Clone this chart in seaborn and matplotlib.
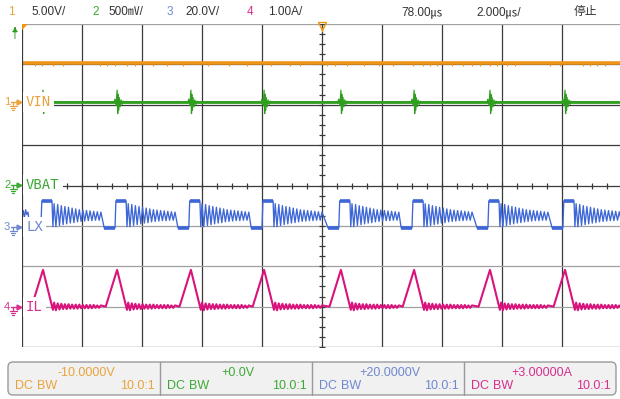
import matplotlib.pyplot as plt
import numpy as np
import seaborn as sns
from matplotlib.patches import FancyBboxPatch, Polygon

# screen units: time in us from the left edge (2.000us/div, 10 div),
# levels in divisions from the screen centre (8 div)
il_peak_us = [0.70, 3.17, 5.63, 8.07, 10.63, 13.07, 15.60, 18.10]

# ringing after each switching cycle, offsets from the current peak
ring_us = [0.37, 0.43, 0.49, 0.55, 0.61, 0.67, 0.73, 0.79, 0.85, 0.91, 0.97, 1.03, 1.09, 1.15,
           1.21, 1.27, 1.33, 1.39, 1.45, 1.51, 1.57, 1.63, 1.69, 1.75, 1.81, 1.87, 1.93]
lx_ring_div = [-0.45, -1.02, -0.47, -0.99, -0.50, -0.97, -0.52, -0.95, -0.54, -0.93, -0.56, -0.92,
               -0.58, -0.90, -0.60, -0.89, -0.61, -0.88, -0.62, -0.87, -0.63, -0.87, -0.64, -0.86,
               -0.65, -0.86, -0.66]
il_ring_div = [-2.90, -3.09, -2.92, -3.07, -2.93, -3.06, -2.94, -3.06, -2.94, -3.05, -2.95, -3.05,
               -2.95, -3.05, -2.95, -3.04, -2.96, -3.04, -2.96, -3.04, -2.96, -3.04, -2.96, -3.03,
               -2.97, -3.03, -2.97]

# LX switching edges around each peak (low plateau, high plateau)
lx_edge_us = [-0.43, -0.07, -0.04, 0.30, 0.33]
lx_edge_div = [-1.05, -1.05, -0.38, -0.38, -1.02]
lx_lead_us = [0.00, 0.04, 0.08, 0.12, 0.16, 0.20, 0.25]
lx_lead_div = [-0.78, -0.62, -0.80, -0.60, -0.72, -0.66, -0.98]

# inductor current triangle
il_edge_us = [-0.38, 0.00, 0.33]
il_edge_div = [-3.00, -2.09, -3.08]

# VIN trace with spike bursts at each switching event
vin_level = 2.07
vin_burst_us = [-0.10, -0.07, -0.03, 0.00, 0.02, 0.03, 0.05, 0.07, 0.10, 0.13, 0.17, 0.20, 0.23]
vin_burst_div = [2.07, 2.14, 1.98, 2.36, 1.78, 2.26, 1.86, 2.18, 1.95, 2.12, 2.01, 2.09, 2.07]

ch1_level = 3.03
ch1_tick_us = [0.43, 0.67, 1.03, 1.37, 2.60, 2.83, 3.10, 3.50, 3.77, 4.37, 4.83, 5.37, 6.20, 6.90,
               7.50, 8.30, 8.93, 9.27, 10.17, 10.43, 10.83, 11.40, 11.90, 12.37, 13.03, 13.37,
               13.60, 13.83, 14.33, 14.70, 15.00, 15.27, 15.60, 15.83, 16.17, 16.43, 17.60,
               17.93, 18.70, 18.93, 19.17, 19.43]

# texts
ch_numbers = ["1", "2", "3", "4"]
ch_scales = ["5.00V/", "500㎷/", "20.0V/", "1.00A/"]
ch_offsets = ["-10.0000V", "+0.0V", "+20.0000V", "+3.00000A"]
trace_labels = ["VIN", "VBAT", "LX", "IL"]
trigger_delay = "78.00㎲"
time_scale = "2.000㎲/"
run_state = "停止"

text_colors = ["#E9A33C", "#3DA935", "#6F88CF", "#D62F8E"]
c_orange, c_green, c_blue, c_pink = "#EE9417", "#2F9E1F", "#3D66D6", "#D8147C"
grid_dark, grid_light = "#3a3a3a", "#a0a0a0"

# build traces
lx_t, lx_y = list(lx_lead_us), list(lx_lead_div)
il_t, il_y = [0.0], [-3.0]
vin_t, vin_y = [0.0], [vin_level]
for p in il_peak_us:
    lx_t += [p + d for d in lx_edge_us + ring_us]
    lx_y += lx_edge_div + lx_ring_div
    il_t += [p + d for d in il_edge_us + ring_us]
    il_y += il_edge_div + il_ring_div
    vin_t += [p + d for d in vin_burst_us]
    vin_y += vin_burst_div
vin_t.append(20.0)
vin_y.append(vin_level)

sns.set_style("white")
plt.rcParams["font.family"] = ["Liberation Sans", "Noto Sans CJK SC", "DejaVu Sans"]

fig = plt.figure(figsize=(6.2, 3.99), dpi=100)
ax = fig.add_axes([22 / 620, 52 / 399, 600 / 620, 323 / 399])
ax.set_xlim(0, 20)
ax.set_ylim(-4, 4)
ax.axis("off")

# graticule
for i in range(11):
    ax.axvline(2 * i, color=grid_dark, lw=0.9, zorder=4 if i == 0 else 1)
h_colors = {4: grid_light, 3: grid_dark, 2: grid_dark, 1: grid_dark, 0: grid_dark,
            -1: grid_light, -2: grid_light, -3: grid_light, -4: grid_dark}
for yv, c in h_colors.items():
    ax.axhline(yv, color=c, lw=0.9, zorder=1)
ax.plot(np.arange(0, 20.01, 0.5), np.zeros(41), ls="none", marker="|", ms=5,
        mew=0.9, color=grid_dark, zorder=1)
ax.plot(np.full(33, 10.0), np.arange(-4, 4.01, 0.25), ls="none", marker="_", ms=5,
        mew=0.9, color=grid_dark, zorder=1)

# traces
sns.lineplot(x=[0.0, 20.0], y=[ch1_level, ch1_level], color=c_orange, lw=2.6, ax=ax, zorder=3)
ax.vlines(ch1_tick_us, ch1_level - 0.08, ch1_level, color=c_orange, lw=0.8, zorder=3)
sns.lineplot(x=[0.0, 20.0], y=[vin_level, vin_level], color=c_green, lw=2.0, ax=ax, zorder=3)
sns.lineplot(x=vin_t, y=vin_y, sort=False, estimator=None, color=c_green, lw=0.9, ax=ax, zorder=3)
sns.lineplot(x=lx_t, y=lx_y, sort=False, estimator=None, color=c_blue, lw=0.95, ax=ax, zorder=3)
for p in il_peak_us:
    ax.plot([p + lx_edge_us[0], p + lx_edge_us[1]], lx_edge_div[:2], color=c_blue, lw=2.6,
            solid_capstyle="butt", zorder=3)
    ax.plot([p + lx_edge_us[2], p + lx_edge_us[3]], lx_edge_div[2:4], color=c_blue, lw=2.6,
            solid_capstyle="butt", zorder=3)
sns.lineplot(x=il_t, y=il_y, sort=False, estimator=None, color=c_pink, lw=1.5, ax=ax, zorder=3)

# overlay for screen decorations, in pixels
ui = fig.add_axes([0, 0, 1, 1], zorder=2)
ui.set_xlim(0, 620)
ui.set_ylim(399, 0)
ui.axis("off")

hdr = dict(fontsize=8.5, va="center", ha="left")
ui.text(8, 12, ch_numbers[0], color=text_colors[0], **hdr)
ui.text(31, 12, ch_scales[0], color="#333333", **hdr)
ui.text(92, 12, ch_numbers[1], color=text_colors[1], **hdr)
ui.text(108, 12, ch_scales[1], color="#333333", **hdr)
ui.text(167, 12, ch_numbers[2], color=text_colors[2], **hdr)
ui.text(185, 12, ch_scales[2], color="#333333", **hdr)
ui.text(247, 12, ch_numbers[3], color=text_colors[3], **hdr)
ui.text(268, 12, ch_scales[3], color="#333333", **hdr)
ui.text(401, 12, trigger_delay, color="#333333", **hdr)
ui.text(476, 12, time_scale, color="#333333", **hdr)
ui.text(574, 12, run_state, color="#333333", **hdr)

# trigger markers
ui.add_patch(Polygon([(22, 24), (28, 24), (22, 30)], closed=True, fc=c_orange, ec="none"))
ui.plot([322], [26], marker="v", ms=6, mfc="none", mec=c_orange, mew=1.0)
ui.plot([322, 322], [28, 31], color=c_orange, lw=1.0)
ui.annotate("", xy=(15, 24), xytext=(15, 31),
            arrowprops=dict(arrowstyle="-|>", color=c_green, lw=1.0, mutation_scale=6))
ui.text(15, 36, "T", color=c_green, fontsize=7, ha="center", va="center")

# channel ground markers and labels
marker_y = [102, 185, 227, 307]
for num, lab, col, y in zip(ch_numbers, trace_labels, text_colors, marker_y):
    ui.text(4, y, num, color=col, fontsize=8, va="center", ha="left")
    ui.plot([11, 18], [y, y], color=col, lw=1.0)
    ui.plot([19], [y], marker=">", ms=3.5, color=col)
    ui.plot([13, 13], [y, y + 4], color=col, lw=0.9)
    ui.plot([9.5, 16.5], [y + 4, y + 4], color=col, lw=0.9)
    ui.plot([11, 15], [y + 6, y + 6], color=col, lw=0.9)
    ui.plot([12.3, 13.7], [y + 8, y + 8], color=col, lw=0.9)
    ui.text(26, y, lab, color=col, fontsize=10, va="center", ha="left",
            family="DejaVu Sans Mono",
            bbox=dict(fc="white", ec="none", pad=2.2))

# bottom channel info panel
ui.add_patch(FancyBboxPatch((8, 362), 608, 33, boxstyle="round,pad=0,rounding_size=5",
                            fc="#f1f1f1", ec="#9a9a9a", lw=1.0))
sec_left = [8, 160, 312, 464]
for i, x0 in enumerate(sec_left):
    if i > 0:
        ui.plot([x0, x0], [362, 395], color="#9a9a9a", lw=1.0)
    col = text_colors[i]
    ui.text(x0 + 78, 373, ch_offsets[i], color=col, fontsize=9, ha="center", va="center")
    ui.text(x0 + 7, 386, "DC", color=col, fontsize=9, ha="left", va="center")
    ui.text(x0 + 29, 386, "BW", color=col, fontsize=9, ha="left", va="center")
    ui.text(x0 + 147, 386, "10.0:1", color=col, fontsize=9, ha="right", va="center")

fig.savefig("out.png", dpi=100)
